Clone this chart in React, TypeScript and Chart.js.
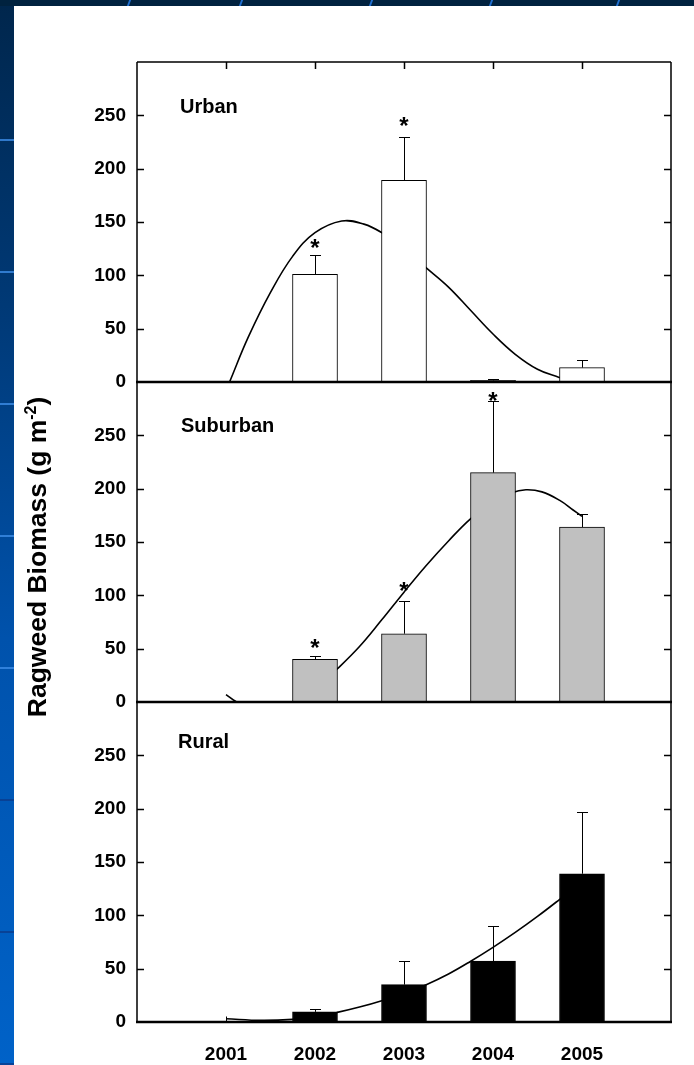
import React, { useEffect, useRef } from "react";
import { Chart, registerables } from "chart.js";

Chart.register(...registerables);

// ---------------- data ----------------
const years = [2001, 2002, 2003, 2004, 2005];
const yTickValues = [0, 50, 100, 150, 200, 250];

const urbanMeans = [null, 101, 189, 1.5, 13.5];
const urbanErrors = [null, 18, 41, 1, 7.5];
const urbanStars = [null, 130, 245, null, null];
const urbanFitX = [2001.04, 2001.25, 2001.5, 2001.75, 2002.0, 2002.3, 2002.55, 2002.75, 2003.0, 2003.25, 2003.5, 2003.75, 2004.0, 2004.25, 2004.5, 2004.75];
const urbanFitY = [0, 42, 84, 118, 140, 151, 148, 140, 125, 107, 89, 67, 45, 26, 12, 4];

const suburbanMeans = [null, 40, 64, 215, 164];
const suburbanErrors = [null, 3, 31, 67, 12];
const suburbanStars = [null, 55, 109, 287, null];
const suburbanFitX = [2001.0, 2001.12, 2001.4, 2001.75, 2002.0, 2002.25, 2002.5, 2002.75, 2003.0, 2003.25, 2003.5, 2003.75, 2004.0, 2004.2, 2004.37, 2004.55, 2004.75, 2004.9, 2005.0];
const suburbanFitY = [7, 0, -10, -4, 12, 31, 52, 77, 103, 128, 151, 172, 188, 196, 199, 197, 189, 180, 174];

const ruralMeans = [0, 9.5, 35, 57, 139];
const ruralErrors = [6, 3, 22, 33, 58];
const ruralStars = [null, null, null, null, null];
const ruralFitX = [2001.0, 2001.4, 2001.75, 2002.0, 2002.25, 2002.5, 2002.75, 2003.0, 2003.25, 2003.5, 2003.75, 2004.0, 2004.25, 2004.5, 2004.75, 2004.9];
const ruralFitY = [3, 1.5, 2.5, 5, 9, 14, 20, 27, 35, 45, 57, 70, 84, 99, 115, 125];

const panelNames = ["Urban", "Suburban", "Rural"];
const yAxisTitle = "Ragweed Biomass (g m";
const yAxisTitleSup = "-2";

// ---------------- layout ----------------
const W = 694;
const H = 1065;
const PLOT_LEFT = 137;
const PLOT_RIGHT = 671;
const FONT = '"Liberation Sans", Arial, Helvetica, sans-serif';

type PanelCfg = {
  name: string;
  top: number;
  bottom: number;
  means: (number | null)[];
  errors: (number | null)[];
  stars: (number | null)[];
  fitX: number[];
  fitY: number[];
  fill: string;
  labelX: number;
  labelY: number;
  topTicks: boolean;
  showX: boolean;
};

const panels: PanelCfg[] = [
  { name: panelNames[0], top: 62, bottom: 382, means: urbanMeans, errors: urbanErrors, stars: urbanStars, fitX: urbanFitX, fitY: urbanFitY, fill: "#ffffff", labelX: 180, labelY: 113, topTicks: true, showX: false },
  { name: panelNames[1], top: 382, bottom: 702, means: suburbanMeans, errors: suburbanErrors, stars: suburbanStars, fitX: suburbanFitX, fitY: suburbanFitY, fill: "#c0c0c0", labelX: 181, labelY: 432, topTicks: false, showX: false },
  { name: panelNames[2], top: 702, bottom: 1022, means: ruralMeans, errors: ruralErrors, stars: ruralStars, fitX: ruralFitX, fitY: ruralFitY, fill: "#000000", labelX: 178, labelY: 748, topTicks: false, showX: true },
];

function makeDecor(p: PanelCfg) {
  return {
    id: "decor_" + p.name,
    afterDatasetsDraw(chart: any) {
      const { ctx, chartArea: a, scales } = chart;
      const x = scales.x;
      const y = scales.y;
      ctx.save();
      // error bars
      ctx.strokeStyle = "#000";
      ctx.lineWidth = 1;
      p.means.forEach((m, i) => {
        const e = p.errors[i];
        if (m == null || e == null) return;
        const px = Math.round(x.getPixelForValue(years[i])) + 0.5;
        const y0 = y.getPixelForValue(m);
        const y1 = Math.round(y.getPixelForValue(m + e)) + 0.5;
        ctx.beginPath();
        ctx.moveTo(px, y0);
        ctx.lineTo(px, y1);
        if (m > 0) {
          ctx.moveTo(px - 5.5, y1);
          ctx.lineTo(px + 5.5, y1);
        }
        ctx.stroke();
      });
      // asterisks
      ctx.fillStyle = "#000";
      ctx.font = `bold 24px ${FONT}`;
      ctx.textAlign = "center";
      ctx.textBaseline = "alphabetic";
      p.stars.forEach((s, i) => {
        if (s == null) return;
        ctx.fillText("*", x.getPixelForValue(years[i]), y.getPixelForValue(s) + 13);
      });
      // frame
      ctx.lineWidth = 1.5;
      ctx.beginPath();
      ctx.moveTo(a.left, a.top);
      ctx.lineTo(a.left, a.bottom);
      ctx.moveTo(a.right, a.top);
      ctx.lineTo(a.right, a.bottom);
      ctx.moveTo(a.left, a.top);
      ctx.lineTo(a.right, a.top);
      yTickValues.forEach((v) => {
        if (v === 0) return;
        const py = Math.round(y.getPixelForValue(v)) + 0.5;
        ctx.moveTo(a.left, py);
        ctx.lineTo(a.left + 7, py);
        ctx.moveTo(a.right, py);
        ctx.lineTo(a.right - 7, py);
      });
      if (p.topTicks) {
        years.forEach((yr) => {
          const px = Math.round(x.getPixelForValue(yr)) + 0.5;
          ctx.moveTo(px, a.top);
          ctx.lineTo(px, a.top + 7);
        });
      }
      ctx.stroke();
      // zero line
      ctx.lineWidth = 2.5;
      ctx.beginPath();
      const y0 = y.getPixelForValue(0);
      ctx.moveTo(a.left - 1, y0);
      ctx.lineTo(a.right + 1, y0);
      ctx.stroke();
      // panel label
      ctx.font = `bold 20px ${FONT}`;
      ctx.textAlign = "left";
      ctx.fillText(p.name, p.labelX, p.labelY);
      ctx.restore();
    },
  };
}

function Panel({ p }: { p: PanelCfg }) {
  const ref = useRef<HTMLCanvasElement | null>(null);
  useEffect(() => {
    if (!ref.current) return;
    const xAxisH = p.showX ? H - p.bottom : 0;
    const chart = new Chart(ref.current, {
      type: "bar",
      data: {
        datasets: [
          {
            type: "bar",
            data: years
              .map((yr, i) => ({ x: yr, y: p.means[i] }))
              .filter((d) => d.y != null) as any,
            backgroundColor: p.fill,
            borderColor: "#000",
            borderWidth: 1,
            barThickness: 45,
            order: 0,
          } as any,
          {
            type: "line",
            data: p.fitX.map((xv, i) => ({ x: xv, y: p.fitY[i] })),
            borderColor: "#000",
            borderWidth: 1.6,
            pointRadius: 0,
            fill: false,
            tension: 0.4,
            order: 1,
          } as any,
        ],
      },
      options: {
        animation: false,
        responsive: false,
        maintainAspectRatio: false,
        devicePixelRatio: 1,
        events: [],
        layout: {
          padding: { left: 0, right: W - PLOT_RIGHT, top: p.top, bottom: H - p.bottom - xAxisH },
        },
        plugins: { legend: { display: false }, tooltip: { enabled: false }, title: { display: false } },
        scales: {
          x: {
            type: "linear",
            min: 2000,
            max: 2006,
            offset: false,
            display: p.showX,
            grid: { display: false, drawTicks: false },
            border: { display: false },
            ticks: {
              stepSize: 1,
              autoSkip: false,
              maxRotation: 0,
              padding: 21,
              color: "#000",
              font: { family: FONT, size: 19, weight: "bold" },
              callback: (v: any) => (years.includes(Number(v)) ? String(v) : ""),
            },
            afterFit: (s: any) => {
              s.height = xAxisH;
            },
          },
          y: {
            min: 0,
            max: 300,
            grid: { display: false, drawTicks: false },
            border: { display: false },
            ticks: {
              stepSize: 50,
              padding: 11,
              color: "#000",
              font: { family: FONT, size: 19, weight: "bold" },
              callback: (v: any) => (yTickValues.includes(Number(v)) ? String(v) : ""),
            },
            afterFit: (s: any) => {
              s.width = PLOT_LEFT;
            },
          },
        },
      } as any,
      plugins: [makeDecor(p)],
    });
    return () => chart.destroy();
  }, []);
  return (
    <canvas
      ref={ref}
      width={W}
      height={H}
      style={{ position: "absolute", left: 0, top: 0, width: W, height: H }}
    />
  );
}

const stripLines = [139, 271, 403, 535, 667, 799, 931, 1063];
const topArcs = [128, 240, 370, 490, 617];

export default function App() {
  return (
    <div
      style={{
        position: "absolute",
        left: 0,
        top: 0,
        width: W,
        height: H,
        overflow: "hidden",
        background: "linear-gradient(to bottom, #00264c 0%, #003a78 30%, #0052ac 60%, #0062c8 100%)",
        fontFamily: FONT,
      }}
    >
      <div style={{ position: "absolute", left: 0, top: 0, width: W, height: 6, background: "#00223f" }} />
      {topArcs.map((x, i) => (
        <div key={"a" + i} style={{ position: "absolute", left: x, top: 0, width: 2, height: 6, background: "#1f6fd0", transform: "skewX(-20deg)" }} />
      ))}
      {stripLines.map((y, i) => (
        <div
          key={"l" + i}
          style={{
            position: "absolute",
            left: 0,
            top: y,
            width: 14,
            height: 2,
            background: i < 5 ? "rgba(60,140,230,0.8)" : "rgba(10,60,140,0.8)",
          }}
        />
      ))}
      <div style={{ position: "absolute", left: 14, top: 6, right: 0, bottom: 0, background: "#ffffff" }} />
      {panels.map((p) => (
        <Panel key={p.name} p={p} />
      ))}
      <div
        style={{
          position: "absolute",
          left: 37 - 200,
          top: 557 - 16,
          width: 400,
          height: 32,
          lineHeight: "32px",
          textAlign: "center",
          transform: "rotate(-90deg)",
          fontWeight: "bold",
          fontSize: 26.5,
          color: "#000",
          whiteSpace: "nowrap",
        }}
      >
        {yAxisTitle}
        <sup style={{ fontSize: "0.6em", lineHeight: 0 }}>{yAxisTitleSup}</sup>)
      </div>
    </div>
  );
}
